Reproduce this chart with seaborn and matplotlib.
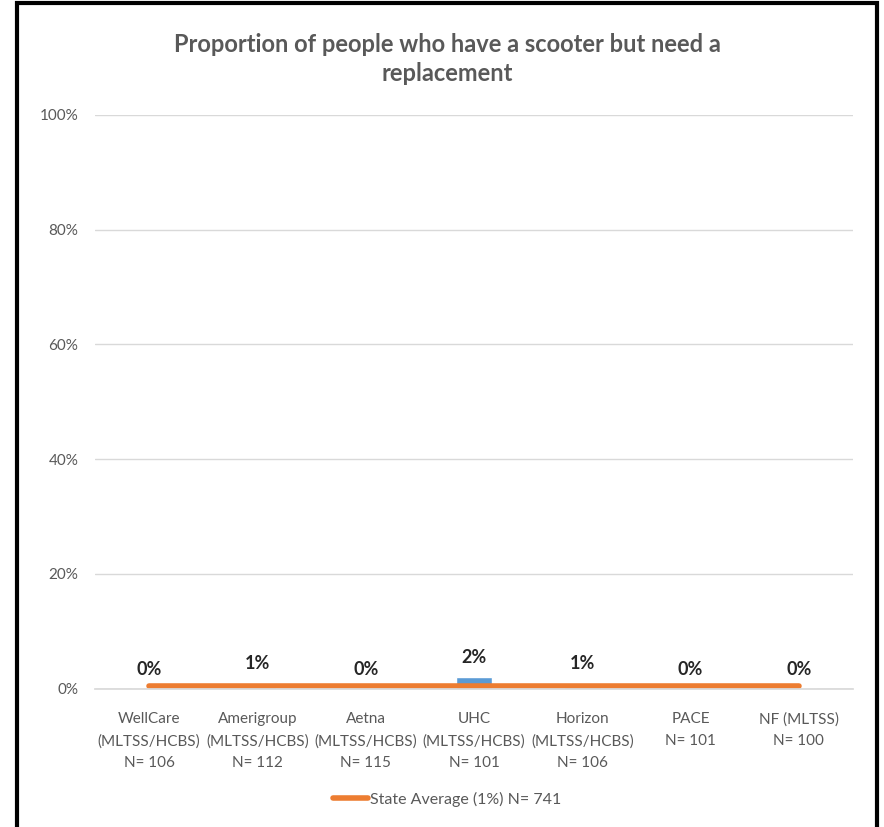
import matplotlib
matplotlib.use("Agg")
from matplotlib import pyplot as plt
from matplotlib.patches import Rectangle
from matplotlib.lines import Line2D
from matplotlib.ticker import PercentFormatter
import pandas as pd
import seaborn as sns

# data
plans = ["WellCare\n(MLTSS/HCBS)\nN= 106", "Amerigroup\n(MLTSS/HCBS)\nN= 112",
         "Aetna\n(MLTSS/HCBS)\nN= 115", "UHC\n(MLTSS/HCBS)\nN= 101",
         "Horizon\n(MLTSS/HCBS)\nN= 106", "PACE\nN= 101", "NF (MLTSS)\nN= 100"]
proportions = [0.0, 0.009, 0.0, 0.02, 0.009, 0.0, 0.0]
bar_labels = ["0%", "1%", "0%", "2%", "1%", "0%", "0%"]
state_average = 0.005
legend_label = "State Average (1%) N= 741"
title = "Proportion of people who have a scooter but need a\nreplacement"

df = pd.DataFrame({"plan": plans, "value": proportions,
                   "avg": [state_average] * len(plans)})

sns.set_theme(style="white")
plt.rcParams["font.family"] = ["Lato", "DejaVu Sans"]

grey = "#595959"
fig = plt.figure(figsize=(8.84, 8.27), dpi=100)
ax = fig.add_axes([95 / 884, 1 - 688.5 / 827, (853 - 95) / 884, (688.5 - 115) / 827])

sns.barplot(data=df, x="plan", y="value", color="#5B9BD5", width=0.34,
            saturation=1, ax=ax)
sns.lineplot(data=df, x="plan", y="avg", color="#ED7D31", linewidth=4,
             sort=False, ax=ax, solid_capstyle="round")

for i, (v, lab) in enumerate(zip(proportions, bar_labels)):
    ax.annotate(lab, (i, v), xytext=(0, 14), textcoords="offset points",
                ha="center", va="center", fontsize=13, fontweight="bold",
                color="#262626")

ax.set_ylim(0, 1)
ax.set_xlim(-0.5, len(plans) - 0.5)
ax.set_yticks([0, 0.2, 0.4, 0.6, 0.8, 1.0])
ax.yaxis.set_major_formatter(PercentFormatter(1, decimals=0))
ax.grid(axis="y", color="#D9D9D9", linewidth=1)
ax.set_axisbelow(True)
for s in ["top", "right", "left"]:
    ax.spines[s].set_visible(False)
ax.spines["bottom"].set_color("#D9D9D9")
ax.tick_params(axis="both", length=0, colors=grey, labelsize=11)
ax.tick_params(axis="x", pad=17)
ax.tick_params(axis="y", pad=12)
for t in ax.get_xticklabels():
    t.set_linespacing(1.7)
ax.set_xlabel("")
ax.set_ylabel("")

fig.text(447 / 884, 1 - 59 / 827, title, ha="center", va="center",
         fontsize=17, fontweight="bold", color=grey, linespacing=1.35)

handle = Line2D([], [], color="#ED7D31", linewidth=4)
fig.legend([handle], [legend_label], loc="center", bbox_to_anchor=(447 / 884, 1 - 799 / 827),
           frameon=False, fontsize=11.5, labelcolor=grey, handlelength=2.2, handletextpad=0.1)

# chart border
fig.patches.append(Rectangle((17 / 884, -0.01), (877 - 17) / 884, 1 - 3 / 827 + 0.01,
                             transform=fig.transFigure, fill=False,
                             edgecolor="black", linewidth=3))

fig.savefig("out.png", dpi=100)
